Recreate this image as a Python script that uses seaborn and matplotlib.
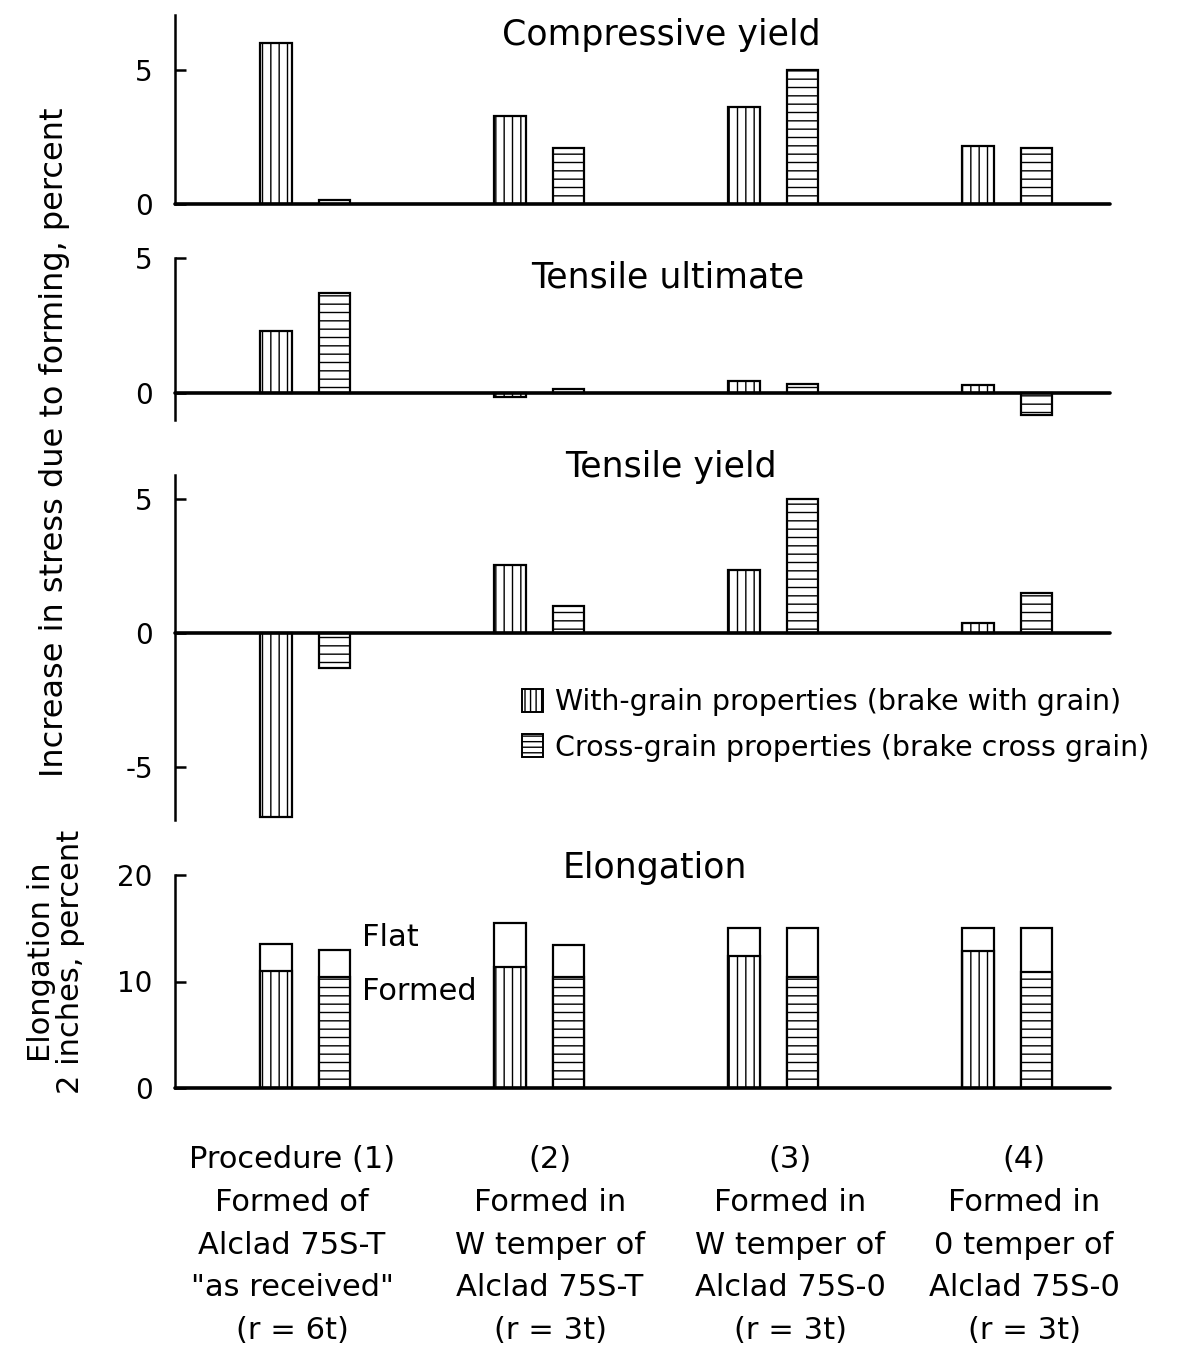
import matplotlib
matplotlib.use("Agg")
import matplotlib.pyplot as plt
import pandas as pd
import seaborn as sns
from matplotlib.patches import Patch

procedures = ["1", "2", "3", "4"]
grain = ["With-grain", "Cross-grain"]

comp_with = [6.0, 3.3, 3.6, 2.15]
comp_cross = [0.15, 2.1, 5.0, 2.1]
ult_with = [2.3, -0.15, 0.45, 0.3]
ult_cross = [3.7, 0.15, 0.35, -0.8]
ty_with = [-6.9, 2.55, 2.35, 0.35]
ty_cross = [-1.3, 1.0, 5.0, 1.5]
flat_with = [13.5, 15.5, 15.0, 15.0]
flat_cross = [13.0, 13.4, 15.0, 15.0]
formed_with = [11.0, 11.4, 12.4, 12.9]
formed_cross = [10.4, 10.4, 10.4, 10.9]

col_labels = [
    "Procedure (1)\nFormed of\nAlclad 75S-T\n\"as received\"\n(r = 6t)",
    "(2)\nFormed in\nW temper of\nAlclad 75S-T\n(r = 3t)",
    "(3)\nFormed in\nW temper of\nAlclad 75S-0\n(r = 3t)",
    "(4)\nFormed in\n0 temper of\nAlclad 75S-0\n(r = 3t)",
]

sns.set_style("white")
plt.rcParams["font.family"] = ["DejaVu Sans"]
plt.rcParams["axes.unicode_minus"] = False
plt.rcParams["hatch.linewidth"] = 1.0
plt.rcParams["text.color"] = "black"
plt.rcParams["ytick.color"] = "black"
plt.rcParams["ytick.labelcolor"] = "black"

W, H = 1188, 1350
fig = plt.figure(figsize=(W / 100, H / 100), dpi=100)
hatches = ["||", "--"]


def frame(with_vals, cross_vals):
    return pd.DataFrame({
        "procedure": procedures * 2,
        "grain": [grain[0]] * 4 + [grain[1]] * 4,
        "value": with_vals + cross_vals,
    })


def bars(ax, df, hatched=True):
    n = len(ax.containers)
    sns.barplot(data=df, x="procedure", y="value", hue="grain", order=procedures,
                hue_order=grain, palette={g: "white" for g in grain},
                edgecolor="black", linewidth=1.6, width=0.5, gap=0.46,
                errorbar=None, legend=False, ax=ax)
    if hatched:
        for cont, h in zip(ax.containers[n:], hatches):
            for p in cont:
                p.set_hatch(h)


def panel(top, bottom, ylim, ticks):
    ax = fig.add_axes([175 / W, 1 - bottom / H, 935 / W, (bottom - top) / H])
    ax.set_xlim(-0.556, 3.44)
    ax.set_ylim(*ylim)
    ax.set_yticks(ticks)
    ax.set_xticks([])
    sns.despine(ax=ax, bottom=True)
    ax.spines["left"].set_linewidth(1.8)
    ax.spines["left"].set_color("black")
    ax.tick_params(axis="y", left=True, direction="in", length=8, width=1.8,
                   pad=16, labelsize=20, colors="black")
    return ax


ax1 = panel(15, 204, (0, 7.05), [0, 5])
bars(ax1, frame(comp_with, comp_cross))
ax2 = panel(258, 420, (-1.0, 5.0), [0, 5])
bars(ax2, frame(ult_with, ult_cross))
ax3 = panel(475, 820, (-7.0, 5.9), [-5, 0, 5])
bars(ax3, frame(ty_with, ty_cross))
ax4 = panel(875, 1088, (0, 20), [0, 10, 20])
bars(ax4, frame(flat_with, flat_cross), hatched=False)
bars(ax4, frame(formed_with, formed_cross))

for ax in (ax1, ax2, ax3, ax4):
    ax.axhline(0, color="black", lw=2.6, zorder=5, clip_on=False)
    ax.set_xlabel("")
    ax.set_ylabel("")
    ax.set_xlim(-0.556, 3.44)

titles = [("Compressive yield", 661, 35), ("Tensile ultimate", 668, 278),
          ("Tensile yield", 671, 467), ("Elongation", 655, 868)]
for t, x, y in titles:
    fig.text(x / W, 1 - y / H, t, ha="center", va="center", fontsize=25)

fig.text(362 / W, 1 - 937 / H, "Flat", ha="left", va="center", fontsize=22)
fig.text(362 / W, 1 - 992 / H, "Formed", ha="left", va="center", fontsize=22)

handles = [Patch(facecolor="white", edgecolor="black", hatch="|||", lw=1.4),
           Patch(facecolor="white", edgecolor="black", hatch="---", lw=1.4)]
ax3.legend(handles, ["With-grain properties (brake with grain)",
                     "Cross-grain properties (brake cross grain)"],
           loc="center left", bbox_to_anchor=(522 / W, 1 - 725 / H),
           bbox_transform=fig.transFigure, frameon=False, fontsize=20.5,
           handlelength=0.75, handleheight=0.85, handletextpad=0.4,
           labelspacing=0.6, borderpad=0, borderaxespad=0)

fig.text(55 / W, 1 - 442 / H, "Increase in stress due to forming, percent",
         rotation=90, ha="center", va="center", fontsize=23)
fig.text(56 / W, 1 - 962 / H, "Elongation in\n2 inches, percent",
         rotation=90, ha="center", va="center", fontsize=22, linespacing=1.0)

for lab, x in zip(col_labels, [292, 550, 790, 1024]):
    fig.text(x / W, 1 - 1245 / H, lab, ha="center", va="center",
             fontsize=22, linespacing=1.6)

fig.savefig("out.png", dpi=100)
